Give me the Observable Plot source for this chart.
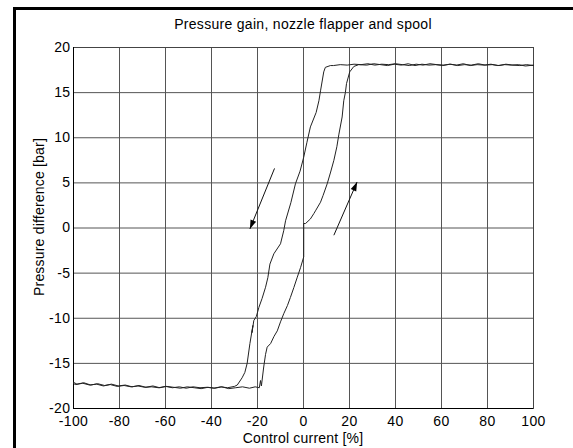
<!DOCTYPE html>
<html><head><meta charset="utf-8">
<script src="https://cdn.jsdelivr.net/npm/d3@7"></script>
<script src="https://cdn.jsdelivr.net/npm/@observablehq/plot@0.6"></script>
<style>
body{margin:0;background:#fff;}
#wrap{position:relative;width:573px;height:448px;overflow:hidden;background:#fff;font-family:"Liberation Sans",Arial,sans-serif;color:#000;}
#chart{position:absolute;left:0;top:0;}
#chart svg text{letter-spacing:0.4px;}
#border{position:absolute;left:13px;top:7px;width:700px;height:700px;border-left:3px solid #000;border-top:3px solid #000;}
.lbl{position:absolute;font-size:14px;line-height:16px;white-space:nowrap;}
#title{left:73px;width:460px;top:16px;text-align:center;letter-spacing:0.3px;}
#xlab{left:73px;width:460px;top:430px;text-align:center;letter-spacing:0.2px;}
#ylab{left:39px;top:217px;transform:translate(-50%,-50%) rotate(-90deg);letter-spacing:0.2px;}
</style></head><body>
<div id="wrap">
<div id="chart"></div>
<div id="border"></div>
<div class="lbl" id="title">Pressure gain, nozzle flapper and spool</div>
<div class="lbl" id="xlab">Control current [%]</div>
<div class="lbl" id="ylab">Pressure difference [bar]</div>
</div>
<script>
const W = 573, H = 448, mL = 73, mR = 40, mT = 47, mB = 40;
const xTicks = [-100, -80, -60, -40, -20, 0, 20, 40, 60, 80, 100];
const yTicks = [-20, -15, -10, -5, 0, 5, 10, 15, 20];

// upper plateau, traversed from right to left
const upperX = [100,97,94,91,88,85,82,79,76,73,70,67,64,61,58,55,52,49,46,43,40,37,34,31,28,25,22,19,16,13];
const upperY = [18.0,18.1,18.0,18.05,18.15,18.0,18.1,18.05,18.2,18.05,18.1,18.0,18.15,18.05,18.1,18.2,18.05,18.15,18.0,18.1,18.2,18.1,18.15,18.05,18.2,18.1,18.15,18.05,18.1,18.0];
// descending branch
const downX = [11.7,9.5,8.8,7.4,6.7,5.5,3.0,1.5,0.1,-1.5,-3.5,-5.5,-7.8,-8.6,-10,-12.9,-14.6,-15.5,-16.5,-18,-19.4,-20.5,-21.6,-22.4,-22.0,-23.3,-24.5,-25.5,-26.7,-28.8];
const downY = [18.0,17.8,17.3,15.2,14.1,12.8,11.2,9.5,7.85,6.3,4.9,2.8,0.8,-0.3,-1.75,-2.86,-4.0,-5.5,-6.56,-7.8,-8.8,-9.8,-10.25,-11.6,-10.8,-12.8,-15.0,-16.0,-16.6,-17.4];
// lower plateau, outward
const lowerOutX = [-30,-33,-36,-39,-42,-45,-48,-51,-54,-57,-60,-63,-66,-69,-72,-75,-78,-81,-84,-87,-90,-93,-96,-99,-100];
const lowerOutY = [-17.55,-17.7,-17.6,-17.75,-17.65,-17.7,-17.6,-17.75,-17.6,-17.7,-17.55,-17.7,-17.6,-17.65,-17.5,-17.6,-17.45,-17.55,-17.35,-17.5,-17.3,-17.4,-17.2,-17.35,-17.25];
// lower plateau, return
const lowerBackX = [-100,-98.5,-95.5,-92.5,-89.5,-86.5,-83.5,-80.5,-77.5,-74.5,-71.5,-68.5,-65.5,-62.5,-59.5,-56.5,-53.5,-50.5,-47.5,-44.5,-41.5,-38.5,-35.5,-32.5,-29.5,-26.5,-23.5,-21,-20.1];
const lowerBackY = [-17.1,-17.3,-17.15,-17.4,-17.25,-17.45,-17.3,-17.5,-17.4,-17.6,-17.45,-17.65,-17.5,-17.7,-17.55,-17.65,-17.75,-17.6,-17.7,-17.8,-17.65,-17.75,-17.6,-17.8,-17.7,-17.6,-17.75,-17.6,-17.65];
// ascending branch
const upX = [-19.2,-18.7,-18.3,-17.3,-16.5,-15.8,-14.3,-12.8,-11.4,-10,-8.6,-7.0,-5.7,-4.2,-2.7,-1.3,0.1,0.1,0.9,3.0,4.5,5.2,7.4,8.5,10.3,11.8,13.2,14.5,15.4,16.8,17.5,18.2,18.7,20.1,21.9];
const upY = [-17.7,-16.9,-17.5,-15.4,-14.0,-13.2,-12.8,-12.0,-11.4,-10.4,-9.5,-8.6,-7.7,-6.6,-5.45,-4.4,-3.2,0.5,0.5,1.0,1.6,1.9,2.86,3.6,4.9,6.2,7.5,9.0,10.4,12.3,14.1,15.0,16.0,17.3,17.9];
// upper plateau, return to the right
const upperBackX = [24,27.5,30.5,33.5,36.5,39.5,42.5,45.5,48.5,51.5,54.5,57.5,60.5,63.5,66.5,69.5,72.5,75.5,78.5,81.5,84.5,87.5,90.5,93.5,96.5,100];
const upperBackY = [18.1,18.05,18.2,18.1,18.0,18.15,18.05,18.2,18.0,18.15,18.05,18.1,18.0,18.15,18.05,18.2,18.0,18.1,18.05,18.15,18.0,18.1,18.05,18.1,17.95,18.05];

// direction arrows (tail -> tip)
const arrowTailX = [-12.6, 13.2];
const arrowTailY = [6.6, -0.8];
const arrowTipX = [-23.3, 23.3];
const arrowTipY = [-0.1, 5.1];

const segs = [[upperX, upperY], [downX, downY], [lowerOutX, lowerOutY], [lowerBackX, lowerBackY], [upX, upY], [upperBackX, upperBackY]];
const curve = [];
for (const [xs, ys] of segs) xs.forEach((x, i) => curve.push({x, y: ys[i]}));

const kx = (W - mL - mR) / 200, ky = (H - mT - mB) / 40;
const arrows = arrowTailX.map((x1, i) => {
  const dx = (arrowTipX[i] - x1) * kx, dy = -(arrowTipY[i] - arrowTailY[i]) * ky;
  return {x1, y1: arrowTailY[i], x2: arrowTipX[i], y2: arrowTipY[i], rot: Math.atan2(dx, -dy) * 180 / Math.PI};
});
const head = {draw(ctx) { ctx.moveTo(0, 0); ctx.lineTo(-3, 9); ctx.lineTo(3, 9); ctx.closePath(); }};

const chart = Plot.plot({
  width: W, height: H, marginLeft: mL, marginRight: mR, marginTop: mT, marginBottom: mB,
  x: {domain: [-100, 100]},
  y: {domain: [-20, 20]},
  style: {fontFamily: "'Liberation Sans', Arial, sans-serif", fontSize: "14px", color: "#000", background: "transparent"},
  marks: [
    Plot.gridX(xTicks, {stroke: "#555", strokeOpacity: 1}),
    Plot.gridY(yTicks, {stroke: "#555", strokeOpacity: 1}),
    Plot.frame({stroke: "#444"}),
    Plot.ruleX([-100], {stroke: "#000"}),
    Plot.ruleY([-20], {stroke: "#000"}),
    Plot.axisX(xTicks, {tickSize: 0, tickPadding: 8, tickFormat: d => String(d), label: null, fill: "#000"}),
    Plot.axisY(yTicks, {tickSize: 0, tickPadding: 3, tickFormat: d => String(d), label: null, fill: "#000"}),
    Plot.line(curve, {x: "x", y: "y", stroke: "#222", strokeWidth: 1}),
    Plot.link(arrows, {x1: "x1", y1: "y1", x2: "x2", y2: "y2", stroke: "#111", strokeWidth: 1}),
    Plot.dot(arrows, {x: "x2", y: "y2", symbol: head, r: 4, fill: "#000", stroke: "none", rotate: "rot"})
  ]
});
document.getElementById("chart").appendChild(chart);
</script>
</body></html>
